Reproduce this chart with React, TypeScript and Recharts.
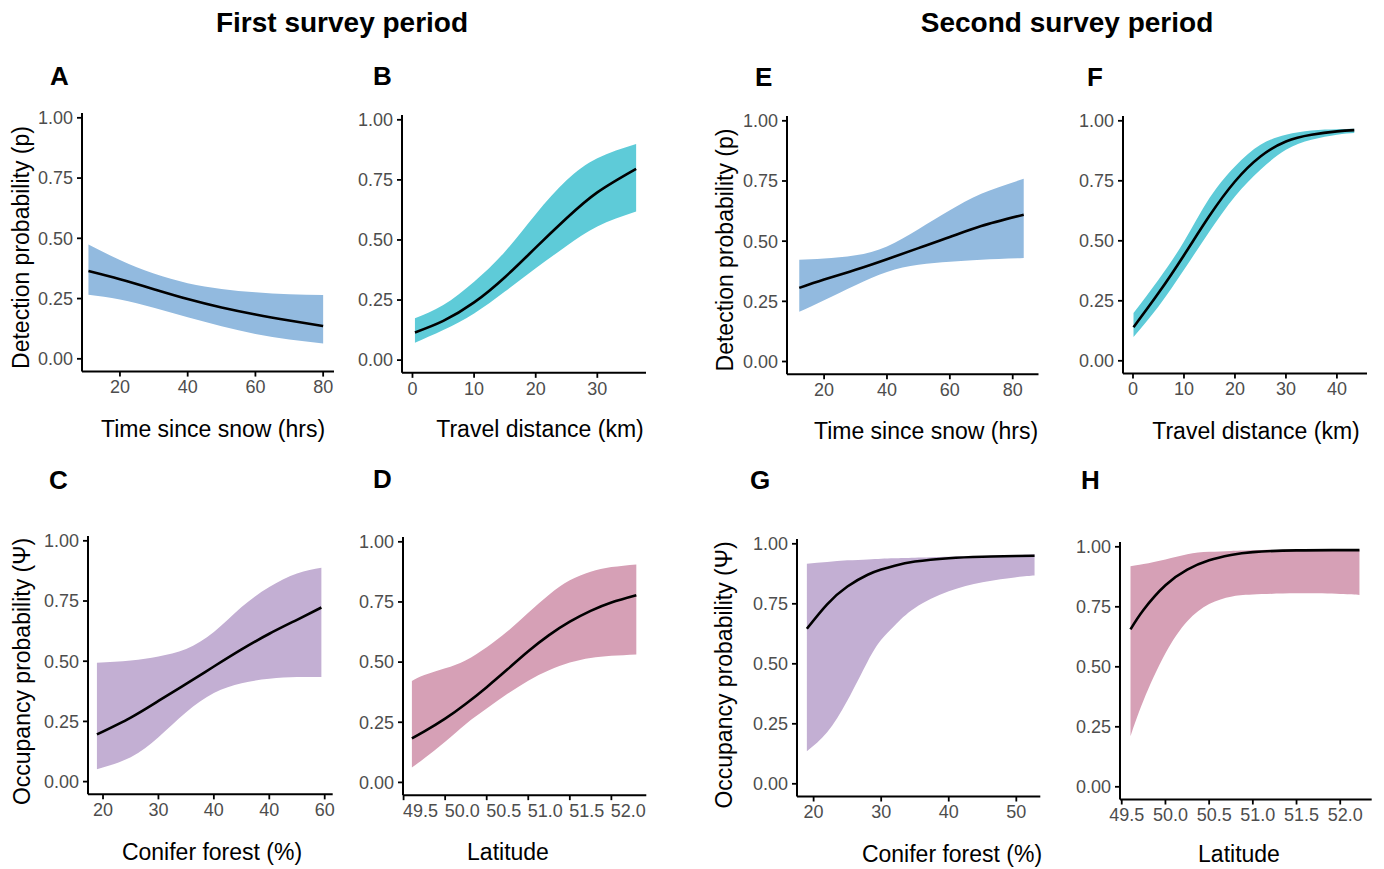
import React from 'react';
import { ComposedChart, Area, Line, XAxis, YAxis } from 'recharts';

const FONT = '"Liberation Sans", Arial, Helvetica, sans-serif';

// ---------- Panel A: time since snow, first period ----------
const xA = [10.7, 20, 30, 40, 50, 60, 70, 80];
const meanA = [0.364, 0.33, 0.289, 0.248, 0.213, 0.184, 0.159, 0.136];
const loA = [0.266, 0.246, 0.212, 0.172, 0.135, 0.103, 0.08, 0.064];
const hiA = [0.474, 0.41, 0.354, 0.314, 0.29, 0.276, 0.268, 0.265];

// ---------- Panel B: travel distance, first period ----------
const xB = [0.4, 5, 10, 15, 20, 25, 30, 36.3];
const meanB = [0.115, 0.163, 0.24, 0.345, 0.468, 0.59, 0.698, 0.796];
const loB = [0.072, 0.125, 0.194, 0.285, 0.382, 0.475, 0.556, 0.618];
const hiB = [0.174, 0.229, 0.326, 0.451, 0.607, 0.748, 0.84, 0.899];

// ---------- Panel C: conifer forest, first period ----------
const xC = [18.9, 25, 30, 35, 40, 45, 50, 55, 59.4];
const meanC = [0.196, 0.266, 0.335, 0.406, 0.478, 0.549, 0.614, 0.672, 0.723];
const loC = [0.051, 0.101, 0.184, 0.288, 0.368, 0.409, 0.427, 0.434, 0.434];
const hiC = [0.494, 0.503, 0.52, 0.551, 0.621, 0.725, 0.808, 0.864, 0.888];

// ---------- Panel D: latitude, first period ----------
const xD = [49.6, 49.75, 50.0, 50.25, 50.5, 50.75, 51.0, 51.25, 51.5, 51.75, 52.0, 52.3];
const meanD = [0.183, 0.212, 0.265, 0.327, 0.396, 0.47, 0.545, 0.612, 0.668, 0.713, 0.748, 0.778];
const loD = [0.062, 0.1, 0.169, 0.243, 0.307, 0.368, 0.423, 0.466, 0.498, 0.517, 0.526, 0.532];
const hiD = [0.422, 0.446, 0.474, 0.508, 0.562, 0.628, 0.705, 0.78, 0.84, 0.876, 0.895, 0.906];

// ---------- Panel E: time since snow, second period ----------
const xE = [12.1, 20, 30, 40, 50, 60, 70, 83.5];
const meanE = [0.306, 0.341, 0.381, 0.425, 0.471, 0.517, 0.563, 0.61];
const loE = [0.207, 0.255, 0.317, 0.372, 0.402, 0.414, 0.423, 0.43];
const hiE = [0.423, 0.428, 0.441, 0.478, 0.55, 0.628, 0.697, 0.759];

// ---------- Panel F: travel distance, second period ----------
const xF = [0.1, 5, 10, 15, 20, 25, 30, 35, 40, 43.4];
const meanF = [0.14, 0.282, 0.44, 0.604, 0.747, 0.851, 0.914, 0.942, 0.956, 0.961];
const loF = [0.099, 0.226, 0.379, 0.539, 0.685, 0.796, 0.879, 0.921, 0.942, 0.949];
const hiF = [0.199, 0.338, 0.497, 0.678, 0.81, 0.9, 0.942, 0.96, 0.965, 0.967];

// ---------- Panel G: conifer forest, second period ----------
const xG = [19.0, 22, 25, 28, 30, 32, 35, 40, 45, 50, 52.7];
const meanG = [0.646, 0.748, 0.822, 0.871, 0.893, 0.909, 0.926, 0.94, 0.946, 0.949, 0.95];
const loG = [0.136, 0.215, 0.347, 0.51, 0.6, 0.66, 0.733, 0.802, 0.84, 0.861, 0.868];
const hiG = [0.917, 0.924, 0.931, 0.935, 0.938, 0.94, 0.942, 0.946, 0.949, 0.952, 0.956];

// ---------- Panel H: latitude, second period ----------
const xH = [49.6, 49.75, 50.0, 50.25, 50.5, 50.75, 51.0, 51.5, 52.0, 52.22];
const meanH = [0.656, 0.738, 0.84, 0.905, 0.944, 0.966, 0.978, 0.985, 0.986, 0.986];
const loH = [0.211, 0.361, 0.556, 0.69, 0.762, 0.792, 0.801, 0.806, 0.803, 0.799];
const hiH = [0.919, 0.928, 0.947, 0.969, 0.979, 0.983, 0.986, 0.988, 0.988, 0.989];

// ---------- ticks ----------
const Y_TICKS = [0, 0.25, 0.5, 0.75, 1];
const ticksTime = [20, 40, 60, 80];
const ticksDistB = [0, 10, 20, 30];
const ticksDistF = [0, 10, 20, 30, 40];
const ticksForestC = [20, 30, 40, 50, 60];
const labelsForestC = ['20', '30', '40', '40', '60'];
const ticksForestG = [20, 30, 40, 50];
const ticksLat = [49.5, 50.0, 50.5, 51.0, 51.5, 52.0];

const Y_DOMAIN: [number, number] = [-0.053, 1.02];

const COL_BLUE = '#92BADF';
const COL_CYAN = '#5ECBD8';
const COL_PURPLE = '#C3AFD3';
const COL_PINK = '#D6A0B6';

type Row = { x: number; mean: number; band: [number, number] };
const rows = (xs: number[], m: number[], lo: number[], hi: number[]): Row[] =>
  xs.map((x, i) => ({ x, mean: m[i], band: [lo[i], hi[i]] }));

interface PanelProps {
  data: Row[];
  xDomain: [number, number];
  xTicks: number[];
  fmt: (v: number, i: number) => string;
  left: number;
  right: number;
  y1: number;
  y0: number;
  fill: string;
  labelDx?: number;
}

function Panel(p: PanelProps) {
  const unit = p.y0 - p.y1;
  const top = p.y1 - (Y_DOMAIN[1] - 1) * unit;
  const bottom = p.y0 + (0 - Y_DOMAIN[0]) * unit;
  const YW = 70;
  const XH = 40;
  const MT = 12;
  const MR = 24;
  const w = YW + (p.right - p.left) + MR;
  const h = MT + (bottom - top) + XH;
  const tickStyle = { fill: '#4D4D4D', fontSize: 18, fontFamily: FONT };
  return (
    <div style={{ position: 'absolute', left: p.left - YW, top: top - MT }}>
      <ComposedChart width={w} height={h} data={p.data} margin={{ top: MT, right: MR, bottom: 0, left: 0 }}>
        <XAxis
          type="number"
          dataKey="x"
          domain={p.xDomain}
          ticks={p.xTicks}
          interval={0}
          allowDataOverflow
          height={XH}
          tickFormatter={p.fmt}
          tick={{ ...tickStyle, dx: p.labelDx ?? 0 }}
          tickSize={5}
          tickMargin={4}
          axisLine={{ stroke: '#000', strokeWidth: 2 }}
          tickLine={{ stroke: '#000', strokeWidth: 1.8 }}
        />
        <YAxis
          type="number"
          domain={Y_DOMAIN}
          ticks={Y_TICKS}
          interval={0}
          allowDataOverflow
          width={YW}
          tickFormatter={(v: number) => v.toFixed(2)}
          tick={tickStyle}
          tickSize={5}
          tickMargin={4}
          axisLine={{ stroke: '#000', strokeWidth: 2 }}
          tickLine={{ stroke: '#000', strokeWidth: 1.8 }}
        />
        <Area
          dataKey="band"
          type="natural"
          fill={p.fill}
          fillOpacity={1}
          stroke="none"
          isAnimationActive={false}
          activeDot={false}
        />
        <Line
          dataKey="mean"
          type="natural"
          stroke="#000"
          strokeWidth={2.6}
          dot={false}
          activeDot={false}
          isAnimationActive={false}
        />
      </ComposedChart>
    </div>
  );
}

const fmtInt = (v: number) => String(v);
const fmtLat = (v: number) => v.toFixed(1);
const fmtForestC = (v: number) => labelsForestC[ticksForestC.indexOf(v)] ?? String(v);

export default function App() {
  return (
    <div
      style={{
        position: 'absolute',
        left: 0,
        top: 0,
        width: 1384,
        height: 869,
        background: '#fff',
        fontFamily: FONT,
      }}
    >
      <Panel data={rows(xA, meanA, loA, hiA)} xDomain={[8.8, 83.2]} xTicks={ticksTime} fmt={fmtInt}
        left={82} right={334} y1={118.3} y0={359.3} fill={COL_BLUE} />
      <Panel data={rows(xB, meanB, loB, hiB)} xDomain={[-1.7, 37.9]} xTicks={ticksDistB} fmt={fmtInt}
        left={402} right={646} y1={119.5} y0={359.8} fill={COL_CYAN} />
      <Panel data={rows(xE, meanE, loE, hiE)} xDomain={[8.2, 88.2]} xTicks={ticksTime} fmt={fmtInt}
        left={786.5} right={1038} y1={121} y0={361.7} fill={COL_BLUE} />
      <Panel data={rows(xF, meanF, loF, hiF)} xDomain={[-1.96, 45.9]} xTicks={ticksDistF} fmt={fmtInt}
        left={1122.7} right={1366.7} y1={121} y0={361} fill={COL_CYAN} />
      <Panel data={rows(xC, meanC, loC, hiC)} xDomain={[17.29, 61.44]} xTicks={ticksForestC} fmt={fmtForestC}
        left={88.3} right={333} y1={540.7} y0={781.5} fill={COL_PURPLE} />
      <Panel data={rows(xD, meanD, loD, hiD)} xDomain={[49.493, 52.42]} xTicks={ticksLat} fmt={fmtLat}
        left={402.7} right={646} y1={541.7} y0={782.3} fill={COL_PINK} labelDx={17} />
      <Panel data={rows(xG, meanG, loG, hiG)} xDomain={[17.54, 53.55]} xTicks={ticksForestG} fmt={fmtInt}
        left={796.7} right={1040} y1={543.3} y0={783.3} fill={COL_PURPLE} />
      <Panel data={rows(xH, meanH, loH, hiH)} xDomain={[49.48, 52.36]} xTicks={ticksLat} fmt={fmtLat}
        left={1120} right={1371.7} y1={546.7} y0={786.7} fill={COL_PINK} labelDx={5} />

      <svg
        width={1384}
        height={869}
        style={{ position: 'absolute', left: 0, top: 0, pointerEvents: 'none' }}
        fontFamily={FONT}
      >
        <g fontWeight="bold" fontSize={28} fill="#000" textAnchor="middle">
          <text x={342} y={31.5}>First survey period</text>
          <text x={1067} y={31.5}>Second survey period</text>
        </g>
        <g fontWeight="bold" fontSize={26} fill="#000">
          <text x={50} y={85}>A</text>
          <text x={373} y={85}>B</text>
          <text x={755} y={86}>E</text>
          <text x={1087} y={86}>F</text>
          <text x={49} y={489}>C</text>
          <text x={373} y={488}>D</text>
          <text x={750} y={489}>G</text>
          <text x={1081} y={489}>H</text>
        </g>
        <g fontSize={23} fill="#000" textAnchor="middle">
          <text x={213} y={437}>Time since snow (hrs)</text>
          <text x={540} y={437}>Travel distance (km)</text>
          <text x={926} y={439}>Time since snow (hrs)</text>
          <text x={1256} y={439}>Travel distance (km)</text>
          <text x={212} y={860}>Conifer forest (%)</text>
          <text x={508} y={860}>Latitude</text>
          <text x={952} y={862}>Conifer forest (%)</text>
          <text x={1239} y={862}>Latitude</text>
          <text transform="translate(28.5,247.5) rotate(-90)">Detection probability (p)</text>
          <text transform="translate(733,250) rotate(-90)">Detection probability (p)</text>
          <text transform="translate(29.5,671.5) rotate(-90)">Occupancy probability (Ψ)</text>
          <text transform="translate(732,675) rotate(-90)">Occupancy probability (Ψ)</text>
        </g>
      </svg>
    </div>
  );
}
